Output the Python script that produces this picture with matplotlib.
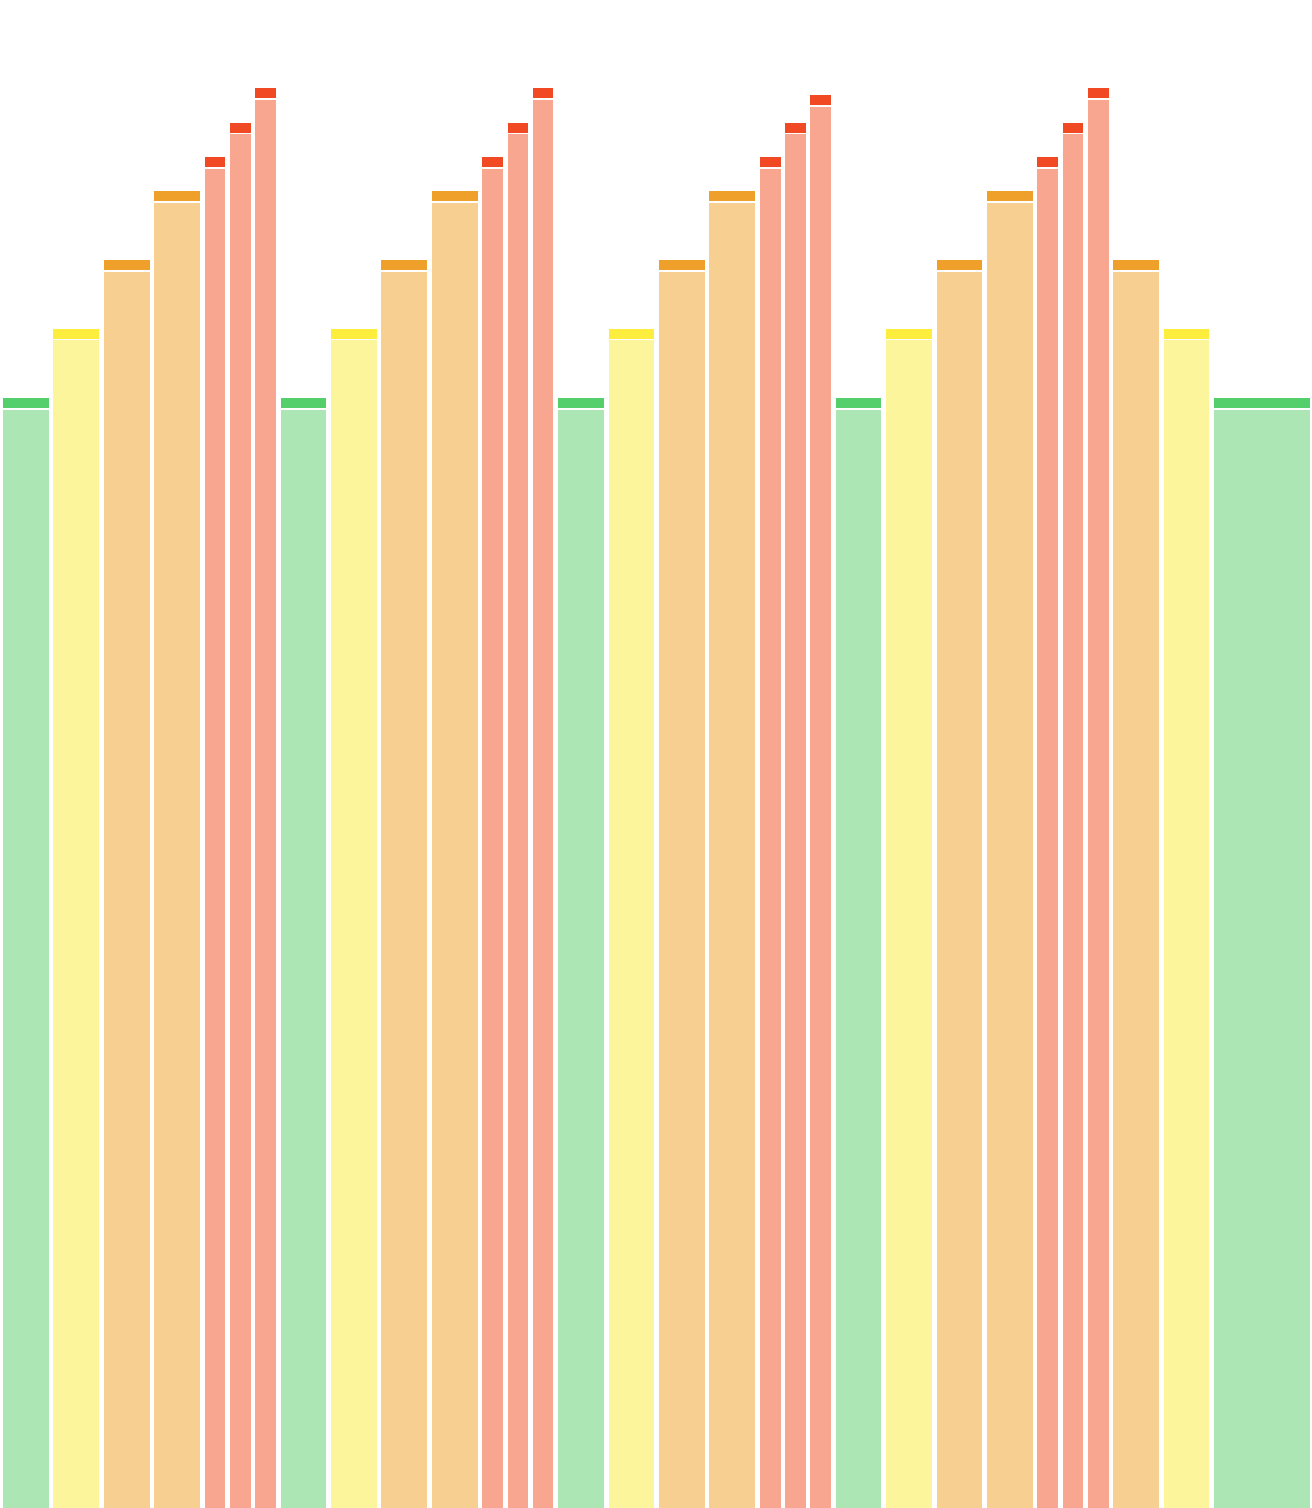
import matplotlib
matplotlib.use("Agg")
import matplotlib.pyplot as plt
import numpy as np

# bar widths (in slots) and levels, left to right
widths = [2, 2, 2, 2, 1, 1, 1,
          2, 2, 2, 2, 1, 1, 1,
          2, 2, 2, 2, 1, 1, 1,
          2, 2, 2, 2, 1, 1, 1,
          2, 2, 4]
values = [16, 17, 17.99, 18.98, 19.47, 19.97, 20.47,
          16, 17, 17.99, 18.98, 19.47, 19.97, 20.47,
          16, 17, 17.99, 18.98, 19.47, 19.97, 20.37,
          16, 17, 17.99, 18.98, 19.47, 19.97, 20.47,
          17.99, 17, 16]
levels = ["G", "Y", "O", "O", "R", "R", "R",
          "G", "Y", "O", "O", "R", "R", "R",
          "G", "Y", "O", "O", "R", "R", "R",
          "G", "Y", "O", "O", "R", "R", "R",
          "O", "Y", "G"]

fill_colors = {"G": "#abe6b4", "Y": "#fdf59c", "O": "#f6cf91", "R": "#f8a690"}
cap_colors = {"G": "#55cf6b", "Y": "#fdee3d", "O": "#efa02a", "R": "#f04923"}

W, H = 1312, 1508
unit_px = 25.23
px_per_val = 69.375

fig = plt.figure(figsize=(W / 100, H / 100), dpi=100)
ax = fig.add_axes([0, 0, 1, 1])
ax.set_xlim(-3 / unit_px, -3 / unit_px + W / unit_px)
ax.set_ylim(0, H / px_per_val)
ax.axis("off")

gap = 4.6 / unit_px
cap = 10 / px_per_val
sep = 1.7 / px_per_val

lefts = np.concatenate([[0], np.cumsum(widths)[:-1]])
w = np.array(widths) - gap
vals = np.array(values)

fills = [fill_colors[l] for l in levels]
caps = [cap_colors[l] for l in levels]

# light body, then the darker cap on top
ax.bar(lefts, vals - cap - sep + 1, width=w, bottom=-1, align="edge",
       color=fills, linewidth=0)
ax.bar(lefts, np.full(len(vals), cap), width=w, bottom=vals - cap,
       align="edge", color=caps, linewidth=0)

fig.savefig("out.png", dpi=100, facecolor="white")
